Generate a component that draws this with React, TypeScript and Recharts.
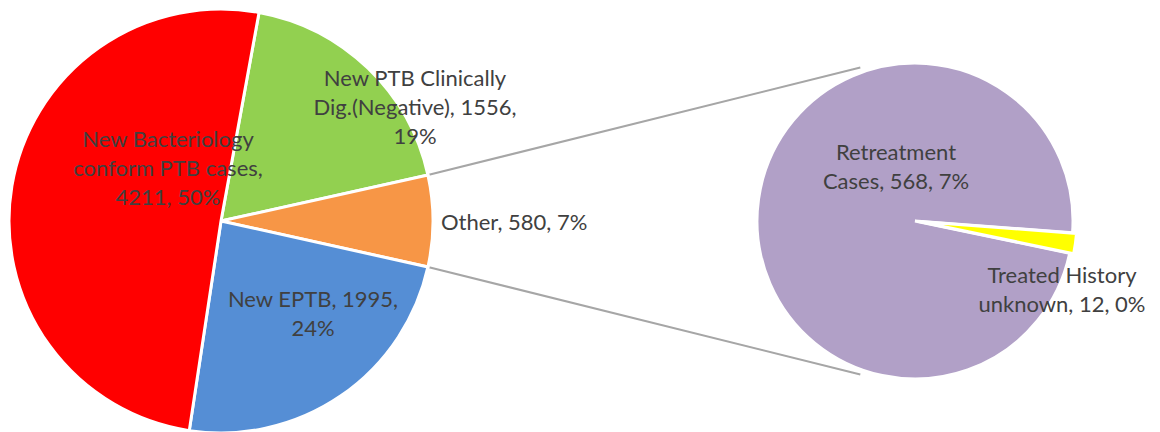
import React from "react"
import { PieChart, Pie, Cell, Customized } from "recharts"

const mainNames = [
  "New PTB Clinically Dig.(Negative)",
  "Other",
  "New EPTB",
  "New Bacteriology conform PTB cases",
]
const mainValues = [1556, 580, 1995, 4211]
const mainColors = ["#92D050", "#F79646", "#558ED5", "#FF0000"]

const subNames = ["Retreatment Cases", "Treated History unknown"]
const subValues = [568, 12]
const subColors = ["#B1A0C7", "#FFFF00"]

const total = mainValues.reduce((a, b) => a + b, 0)
const otherIndex = 1

const mainData = mainNames.map((name, i) => ({ name, value: mainValues[i] }))
const subData = subNames.map((name, i) => ({ name, value: subValues[i] }))

// geometry
const W = 1160
const H = 432
const MAIN = { cx: 221, cy: 221, r: 212 }
const SUB = { cx: 915, cy: 221, r: 158 }
const SUB_START = -4.3
const EXPLODE = 4

const beforeOther = mainValues.slice(0, otherIndex).reduce((a, b) => a + b, 0)
const mainStart = ((beforeOther + mainValues[otherIndex] / 2) / total) * 360

// label placement relative to pie centre
const mainLabelPos = [
  { dx: 194, dy: -115, wrap: 21, anchor: "middle" },
  { dx: 220, dy: 0, wrap: 40, anchor: "start" },
  { dx: 92, dy: 91, wrap: 16, anchor: "middle" },
  { dx: -53, dy: -54, wrap: 20, anchor: "middle" },
]
const subLabelPos = [
  { dx: -19, dy: -56, wrap: 14, anchor: "middle" },
  { dx: 147, dy: 67, wrap: 16, anchor: "middle" },
]

const FONT = "Lato, sans-serif"
const FONT_SIZE = 22
const LINE_H = 29

function wrapText(text: string, max: number) {
  const words = text.split(" ")
  const lines: string[] = []
  let cur = ""
  for (const w of words) {
    const next = cur ? cur + " " + w : w
    if (next.length > max && cur) {
      lines.push(cur)
      cur = w
    } else {
      cur = next
    }
  }
  if (cur) lines.push(cur)
  return lines
}

function makeLabel(center: { cx: number; cy: number }, pos: typeof mainLabelPos) {
  return (props: any) => {
    const i = props.index
    const p = pos[i]
    const pct = Math.round((props.value / total) * 100)
    const lines = wrapText(`${props.name}, ${props.value}, ${pct}%`, p.wrap)
    const x = center.cx + p.dx
    const y0 = center.cy + p.dy - ((lines.length - 1) * LINE_H) / 2
    return (
      <text
        key={`lbl-${i}`}
        x={x}
        y={y0}
        textAnchor={p.anchor}
        dominantBaseline="central"
        fill="#404040"
        fontFamily={FONT}
        fontSize={FONT_SIZE}
      >
        {lines.map((l, k) => (
          <tspan key={k} x={x} y={y0 + k * LINE_H}>
            {l}
          </tspan>
        ))}
      </text>
    )
  }
}

function Connectors() {
  const rad = Math.PI / 180
  const half = (mainValues[otherIndex] / total) * 180
  const subAng = 109.6
  const rr = SUB.r + 5
  const pts = [1, -1].map((s) => ({
    x1: MAIN.cx + MAIN.r * Math.cos(s * half * rad),
    y1: MAIN.cy - MAIN.r * Math.sin(s * half * rad),
    x2: SUB.cx + rr * Math.cos(s * subAng * rad),
    y2: SUB.cy - rr * Math.sin(s * subAng * rad),
  }))
  return (
    <g>
      {pts.map((p, i) => (
        <line key={i} {...p} stroke="#A6A6A6" strokeWidth={2} />
      ))}
    </g>
  )
}

export default function App() {
  const yellowMid = SUB_START + 360 - ((subValues[1] / 2) / (subValues[0] + subValues[1])) * 360
  const ex = EXPLODE * Math.cos((yellowMid * Math.PI) / 180)
  const ey = -EXPLODE * Math.sin((yellowMid * Math.PI) / 180)
  return (
    <div style={{ position: "absolute", left: 0, top: 0, width: W, height: H, background: "#fff" }}>
      <PieChart width={W} height={H} margin={{ top: 0, right: 0, bottom: 0, left: 0 }}>
        <Customized component={Connectors} />
        <Pie
          data={mainData}
          dataKey="value"
          nameKey="name"
          cx={MAIN.cx}
          cy={MAIN.cy}
          outerRadius={MAIN.r}
          startAngle={mainStart}
          endAngle={mainStart - 360}
          stroke="#fff"
          strokeWidth={3}
          label={makeLabel(MAIN, mainLabelPos)}
          labelLine={false}
          isAnimationActive={false}
        >
          {mainData.map((d, i) => (
            <Cell key={d.name} fill={mainColors[i]} />
          ))}
        </Pie>
        <Pie
          data={subData}
          dataKey="value"
          nameKey="name"
          cx={SUB.cx}
          cy={SUB.cy}
          outerRadius={SUB.r}
          startAngle={SUB_START}
          endAngle={SUB_START + 360}
          stroke="#fff"
          strokeWidth={3}
          labelLine={false}
          isAnimationActive={false}
        >
          {subData.map((d, i) => (
            <Cell key={d.name} fill={i === 1 ? "transparent" : subColors[i]} stroke={i === 1 ? "none" : "#fff"} />
          ))}
        </Pie>
        <Pie
          data={subData}
          dataKey="value"
          nameKey="name"
          cx={SUB.cx + ex}
          cy={SUB.cy + ey}
          outerRadius={SUB.r}
          startAngle={SUB_START}
          endAngle={SUB_START + 360}
          stroke="#fff"
          strokeWidth={3}
          label={makeLabel(SUB, subLabelPos)}
          labelLine={false}
          isAnimationActive={false}
        >
          {subData.map((d, i) => (
            <Cell key={d.name} fill={i === 0 ? "transparent" : subColors[i]} stroke={i === 0 ? "none" : "#fff"} />
          ))}
        </Pie>
      </PieChart>
    </div>
  )
}
